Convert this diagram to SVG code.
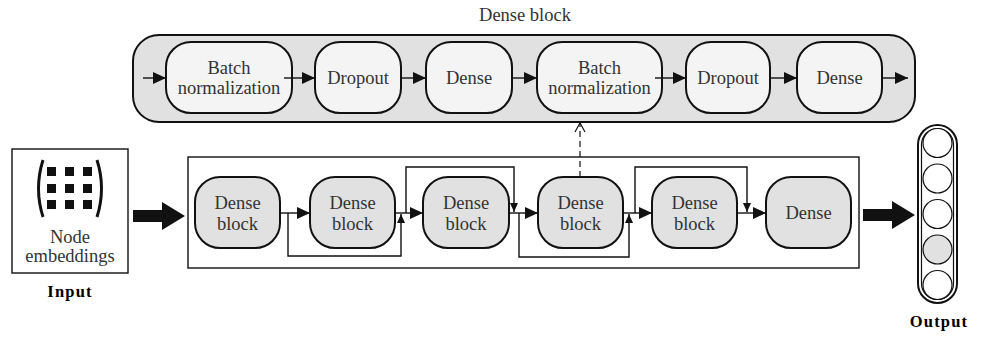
<svg xmlns="http://www.w3.org/2000/svg" width="988" height="337" viewBox="0 0 988 337">
<style>
text{font-family:"Liberation Serif","DejaVu Serif","Noto Serif",serif;fill:#333;text-anchor:middle}
.lbl{font-size:18.5px}
.bold{font-weight:bold;fill:#000;font-size:16.5px;letter-spacing:1.2px}
.ibox{fill:#f4f4f4;stroke:#111;stroke-width:2}
.gbox{fill:#e1e1e1;stroke:#111;stroke-width:2}
.ln{fill:none;stroke:#111;stroke-width:1.4}
</style>
<defs>
<marker id="ah" markerUnits="userSpaceOnUse" markerWidth="14" markerHeight="14" viewBox="0 0 14 14" refX="13" refY="7" orient="auto">
<path d="M0,1 L13,7 L0,13 Z" fill="#111"/>
</marker>
<marker id="sh" markerUnits="userSpaceOnUse" markerWidth="10" markerHeight="10" viewBox="0 0 10 10" refX="9" refY="5" orient="auto">
<path d="M0,1 L9,5 L0,9 Z" fill="#111"/>
</marker>
<marker id="oh" markerUnits="userSpaceOnUse" markerWidth="12" markerHeight="12" viewBox="0 0 12 12" refX="10" refY="6" orient="auto">
<path d="M1,1 L10,6 L1,11" fill="none" stroke="#111" stroke-width="1.2"/>
</marker>
</defs>

<text id="title" class="lbl" x="525" y="21">Dense block</text>

<g id="dense-block-container">
<rect x="133" y="35" width="782" height="87" rx="26" class="gbox"/>
</g>

<g id="bn1"><rect x="166" y="42" width="126" height="71" rx="25" class="ibox"/><text class="lbl" x="229" y="74">Batch</text><text class="lbl" x="229" y="94">normalization</text></g>
<g id="do1"><rect x="315" y="42" width="86" height="71" rx="25" class="ibox"/><text class="lbl" x="358" y="84">Dropout</text></g>
<g id="de1"><rect x="426" y="42" width="86" height="71" rx="25" class="ibox"/><text class="lbl" x="469" y="84">Dense</text></g>
<g id="bn2"><rect x="537" y="42" width="125" height="71" rx="25" class="ibox"/><text class="lbl" x="599.5" y="74">Batch</text><text class="lbl" x="599.5" y="94">normalization</text></g>
<g id="do2"><rect x="686" y="42" width="84" height="71" rx="25" class="ibox"/><text class="lbl" x="728" y="84">Dropout</text></g>
<g id="de2"><rect x="797" y="42" width="85" height="71" rx="25" class="ibox"/><text class="lbl" x="839.5" y="84">Dense</text></g>

<g id="input">
<rect x="12" y="149" width="116" height="124" fill="#fff" stroke="#111" stroke-width="1.4"/>
<path d="M43,160 Q34,188.5 43,217" fill="none" stroke="#111" stroke-width="3"/>
<path d="M97,160 Q106,188.5 97,217" fill="none" stroke="#111" stroke-width="3"/>
<g fill="#111">
<rect x="47" y="167" width="9" height="9"/><rect x="65" y="167" width="9" height="9"/><rect x="83" y="167" width="9" height="9"/>
<rect x="47" y="184" width="9" height="9"/><rect x="65" y="184" width="9" height="9"/><rect x="83" y="184" width="9" height="9"/>
<rect x="47" y="200" width="9" height="9"/><rect x="65" y="200" width="9" height="9"/><rect x="83" y="200" width="9" height="9"/>
</g>
<text class="lbl" x="70" y="243">Node</text>
<text class="lbl" x="70" y="262">embeddings</text>
<text class="bold" x="70" y="297">Input</text>
</g>

<g id="main-container">
<rect x="188" y="157" width="671" height="111" fill="#fff" stroke="#111" stroke-width="1.4"/>
</g>

<g id="db1"><rect x="195" y="177" width="85" height="71" rx="25" class="gbox"/><text class="lbl" x="237.5" y="209">Dense</text><text class="lbl" x="237.5" y="230">block</text></g>
<g id="db2"><rect x="310" y="177" width="85" height="71" rx="25" class="gbox"/><text class="lbl" x="352.5" y="209">Dense</text><text class="lbl" x="352.5" y="230">block</text></g>
<g id="db3"><rect x="423" y="177" width="86" height="71" rx="25" class="gbox"/><text class="lbl" x="466" y="209">Dense</text><text class="lbl" x="466" y="230">block</text></g>
<g id="db4"><rect x="538" y="177" width="85" height="71" rx="25" class="gbox"/><text class="lbl" x="580.5" y="209">Dense</text><text class="lbl" x="580.5" y="230">block</text></g>
<g id="db5"><rect x="652" y="177" width="85" height="71" rx="25" class="gbox"/><text class="lbl" x="694.5" y="209">Dense</text><text class="lbl" x="694.5" y="230">block</text></g>
<g id="dout"><rect x="766" y="177" width="85" height="71" rx="25" class="gbox"/><text class="lbl" x="808.5" y="219">Dense</text></g>

<g id="output">
<rect x="918" y="125" width="39" height="178" rx="19.5" fill="#fff" stroke="#111" stroke-width="2"/>
<rect x="921.5" y="128.5" width="32" height="171" rx="16" fill="none" stroke="#111" stroke-width="1.2"/>
<circle cx="937.5" cy="143" r="14.5" fill="#fff" stroke="#111" stroke-width="1.2"/>
<circle cx="937.5" cy="178.5" r="14.5" fill="#fff" stroke="#111" stroke-width="1.2"/>
<circle cx="937.5" cy="214" r="14.5" fill="#fff" stroke="#111" stroke-width="1.2"/>
<circle cx="937.5" cy="249.5" r="14.5" fill="#e1e1e1" stroke="#111" stroke-width="1.2"/>
<circle cx="937.5" cy="285" r="14.5" fill="#fff" stroke="#111" stroke-width="1.2"/>
<text class="bold" x="939" y="327">Output</text>
</g>

<g id="connectors">
<line x1="143" y1="78" x2="166" y2="78" class="ln" marker-end="url(#ah)"/>
<line x1="284" y1="78" x2="315" y2="78" class="ln" marker-end="url(#ah)"/>
<line x1="401" y1="78" x2="426" y2="78" class="ln" marker-end="url(#ah)"/>
<line x1="512" y1="78" x2="537" y2="78" class="ln" marker-end="url(#ah)"/>
<line x1="655" y1="78" x2="686" y2="78" class="ln" marker-end="url(#ah)"/>
<line x1="770" y1="78" x2="797" y2="78" class="ln" marker-end="url(#ah)"/>
<line x1="882" y1="78" x2="908" y2="78" class="ln" marker-end="url(#ah)"/>

<path d="M133,210 H162 V202 L185,216 L162,230 V222 H133 Z" fill="#111"/>
<path d="M863,209 H892 V201 L915,215 L892,229 V221 H863 Z" fill="#111"/>

<line x1="280" y1="213" x2="310" y2="213" class="ln" marker-end="url(#ah)"/>
<line x1="395" y1="213" x2="423" y2="213" class="ln" marker-end="url(#ah)"/>
<line x1="509" y1="213" x2="538" y2="213" class="ln" marker-end="url(#ah)"/>
<line x1="623" y1="213" x2="652" y2="213" class="ln" marker-end="url(#ah)"/>
<line x1="737" y1="213" x2="766" y2="213" class="ln" marker-end="url(#ah)"/>

<path d="M288,213 V256 H401 V214" class="ln" marker-end="url(#sh)"/>
<path d="M406,213 V167 H514 V212" class="ln" marker-end="url(#sh)"/>
<path d="M519,213 V257 H629 V214" class="ln" marker-end="url(#sh)"/>
<path d="M635,213 V167 H747 V212" class="ln" marker-end="url(#sh)"/>

<line x1="580" y1="177" x2="580" y2="123" stroke="#111" stroke-width="1.2" stroke-dasharray="6,4" marker-end="url(#oh)"/>
</g>
</svg>
